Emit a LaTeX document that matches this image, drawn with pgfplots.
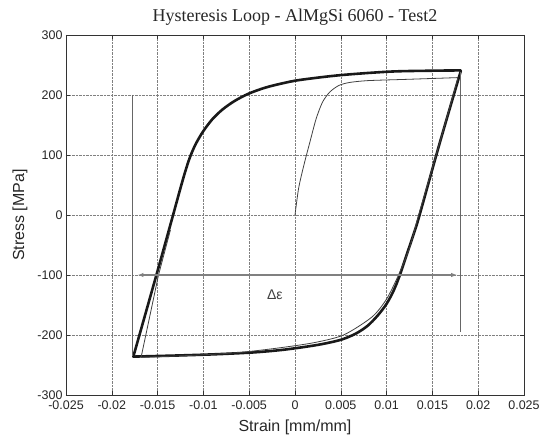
\documentclass[border=0pt]{standalone}
\usepackage{fontspec}
\setmainfont{Liberation Serif}
\setsansfont{Liberation Sans}
\usepackage{pgfplots}
\pgfplotsset{compat=1.18}
\usetikzlibrary{arrows.meta}
\begin{document}
\begin{tikzpicture}
\begin{axis}[
  name=ax,
  scale only axis, width=458pt, height=360pt,
  xmin=-0.025, xmax=0.025, ymin=-300, ymax=300,
  scaled x ticks=false,
  xtick={-0.025,-0.02,-0.015,-0.01,-0.005,0,0.005,0.01,0.015,0.02,0.025},
  xticklabels={-0.025,-0.02,-0.015,-0.01,-0.005,0,0.005,0.01,0.015,0.02,0.025},
  ytick={-300,-200,-100,0,100,200,300},
  yticklabels={-300,-200,-100,0,100,200,300},
  tick label style={font=\sffamily\fontsize{12.5}{14}\selectfont, text=black!85},
  xticklabel style={yshift=-2pt},
  tick align=inside, tick pos=both, major tick length=4pt,
  tick style={black!80, line width=0.6pt},
  grid=major, grid style={densely dotted, black!50, line width=0.6pt},
  axis line style={black!80, line width=0.9pt},
  title={Hysteresis Loop - AlMgSi 6060 - Test2},
  title style={font=\fontsize{18}{21}\selectfont, text=black!85, at={(0.5,1)}, anchor=base, yshift=7pt},
  xlabel={Strain [mm/mm]},
  xlabel style={font=\sffamily\fontsize{16}{19}\selectfont, text=black!85, at={(0.5,0)}, anchor=base, yshift=-36pt},
  ylabel={Stress [MPa]},
  ylabel style={font=\sffamily\fontsize{16}{19}\selectfont, text=black!85, at={(0,0.5)}, anchor=center, yshift=46pt},
]
% stabilised hysteresis loop (thick): reloading branch
\addplot[black!90, line width=2.6pt, smooth, tension=0.5, line cap=round] coordinates {
(-0.01765,-236) (-0.01513,-100) (-0.0134,-5) (-0.01295,20) (-0.0125,45)
(-0.01203,70) (-0.0115,95) (-0.01085,118) (-0.0100,140) (-0.0090,160)
(-0.0079,176) (-0.0066,190) (-0.0051,202) (-0.0033,212) (-0.0015,219)
(0.0005,225) (0.0049,233) (0.0104,239) (0.0150,240.5) (0.0181,241)
};
% unloading branch
\addplot[black!90, line width=2.6pt, smooth, tension=0.5, line cap=round] coordinates {
(0.0181,240) (0.0158,120) (0.0136,0) (0.0131,-25) (0.01255,-50)
(0.0120,-75) (0.01145,-100) (0.0108,-125) (0.0100,-148) (0.0090,-168)
(0.0079,-185) (0.0066,-198) (0.0050,-208) (0.0030,-215) (0.0010,-220)
(-0.0015,-225) (-0.0045,-229) (-0.0085,-232) (-0.0125,-234) (-0.01765,-236)
};
% first cycle (thin): virgin loading
\addplot[black!75, line width=0.8pt, smooth, tension=0.45] coordinates {
(0,0) (0.0004,45) (0.0010,85) (0.0016,120) (0.0023,160)
(0.0030,188) (0.0038,205) (0.0048,216) (0.006,221) (0.008,224) (0.012,226)
(0.0178,229)
};
% first cycle (thin): unloading and reloading
\addplot[black!75, line width=0.8pt, smooth, tension=0.45] coordinates {
(0.0178,229) (0.0156,110) (0.0135,0) (0.0125,-55) (0.0113,-100) (0.0100,-140)
(0.0084,-170) (0.0053,-200) (0.0020,-213) (-0.0020,-222) (-0.0060,-229)
(-0.0100,-233) (-0.0145,-236) (-0.0168,-237)
};
\addplot[black!75, line width=0.8pt] coordinates {
(-0.0168,-237) (-0.0149,-100) (-0.0136,-25)
};
% delta epsilon markers
\addplot[black!60, line width=0.9pt] coordinates {(-0.0178,200) (-0.0178,-235)};
\addplot[black!60, line width=0.9pt] coordinates {(0.0181,238) (0.0181,-195)};
\addplot[black!50, line width=1.4pt, {Latex[length=6pt,width=4.5pt]}-{Latex[length=6pt,width=4.5pt]}] coordinates {(-0.0172,-100) (0.0177,-100)};
\node[font=\sffamily\fontsize{14}{16}\selectfont, text=black!75] at (axis cs:-0.0022,-133) {Δε};
\end{axis}
\pgfresetboundingbox
\path[use as bounding box] ([shift={(-66pt,-40pt)}]ax.south west) rectangle ([shift={(17pt,35pt)}]ax.north east);
\end{tikzpicture}
\end{document}
